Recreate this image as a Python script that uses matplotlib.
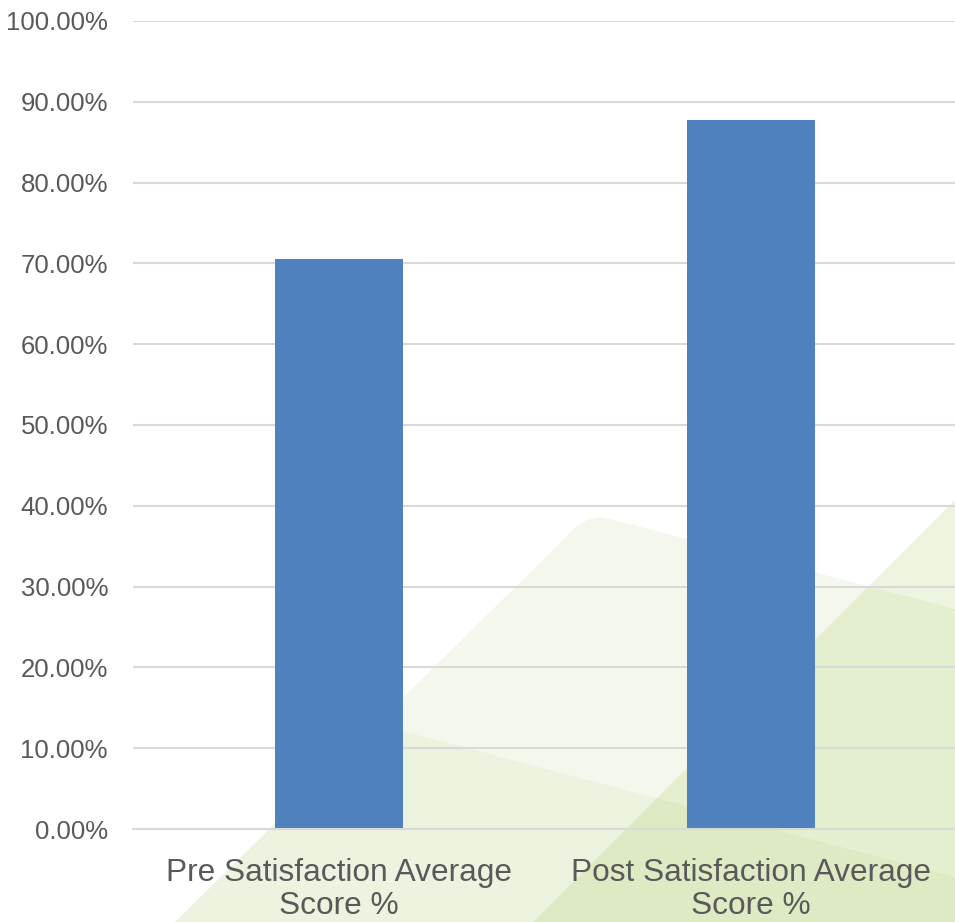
import matplotlib
matplotlib.use("Agg")
import matplotlib.pyplot as plt
from matplotlib.patches import Polygon
from matplotlib.ticker import FuncFormatter, MultipleLocator

categories = ["Pre Satisfaction Average\nScore %", "Post Satisfaction Average\nScore %"]
values = [0.706, 0.878]

W, H = 955, 922
fig = plt.figure(figsize=(W / 100, H / 100), dpi=100)
fig.patch.set_facecolor("white")

def px(pts):
    return [(x / W, 1 - y / H) for x, y in pts]

green = (150 / 255, 195 / 255, 70 / 255)
# decorative background shapes (figure pixel coords)
shapeA = [(175, 922), (560, 543), (574, 528), (587, 520), (600, 517), (614, 520),
          (955, 609), (955, 922)]
shapeB = [(376, 724), (955, 877), (955, 922), (175, 922)]
shapeC = [(955, 500), (533, 922), (955, 922)]
for pts, a in [(shapeA, 0.10), (shapeB, 0.08), (shapeC, 0.17)]:
    fig.patches.append(Polygon(px(pts), closed=True, transform=fig.transFigure,
                               facecolor=green, alpha=a, edgecolor="none", zorder=-5))

ax = fig.add_axes([133 / W, 1 - 829 / H, (957 - 133) / W, (829 - 21) / H])
ax.patch.set_alpha(0)
ax.set_zorder(1)

x = list(range(len(categories)))
ax.bar(x, values, width=0.313, color="#4F81BD", zorder=3)

ax.set_xlim(-0.5, 1.5)
ax.set_ylim(0, 1.0)
ax.yaxis.set_major_locator(MultipleLocator(0.1))
ax.yaxis.set_major_formatter(FuncFormatter(lambda v, p: f"{v*100:.2f}%"))
ax.grid(axis="y", color="#D9D9D9", linewidth=1.5, zorder=1)
ax.set_axisbelow(True)
for s in ["top", "right", "left"]:
    ax.spines[s].set_visible(False)
ax.spines["bottom"].set_color("#D9D9D9")
ax.spines["bottom"].set_linewidth(1.5)
ax.spines["bottom"].set_zorder(4)

ax.set_xticks(x)
ax.set_xticklabels(categories, linespacing=1.12)
for lab in ax.get_yticklabels():
    lab.set_fontfamily("Liberation Sans")
    lab.set_fontsize(18.5)
    lab.set_color("#595959")
for lab in ax.get_xticklabels():
    lab.set_fontfamily("Liberation Sans")
    lab.set_fontsize(22.8)
    lab.set_color("#595959")
ax.tick_params(axis="both", length=0)
ax.tick_params(axis="y", pad=18)
ax.tick_params(axis="x", pad=21)

fig.savefig("out.png", dpi=100)
